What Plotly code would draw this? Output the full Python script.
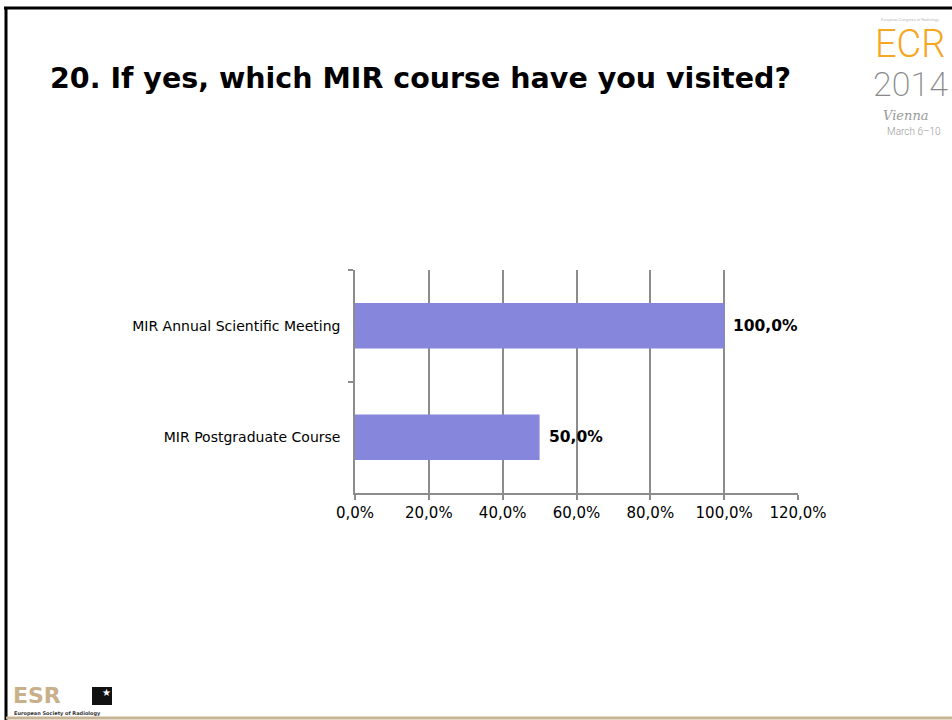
import plotly.graph_objects as go

categories = ["MIR Annual Scientific Meeting", "MIR Postgraduate Course"]
values = [1.0, 0.5]
value_labels = ["100,0%", "50,0%"]
title_text = "20. If yes, which MIR course have you visited?"

W, H = 952, 720

def px(x):
    return x / W

def py(y):
    return 1 - y / H

fig = go.Figure()
fig.add_trace(go.Bar(
    y=categories, x=values, orientation="h",
    marker=dict(color="#8686DD", line=dict(width=0)),
    width=0.41, hoverinfo="skip",
))

for cat, val, lab in zip(categories, values, value_labels):
    fig.add_annotation(x=val, y=cat, xref="x", yref="y", text=lab, showarrow=False,
                       xanchor="left", yanchor="middle", xshift=7,
                       font=dict(family="DejaVu Sans", size=15.5, color="#000000", weight="bold"))

fig.update_layout(
    width=W, height=H, margin=dict(l=0, r=0, t=0, b=0, pad=0, autoexpand=False),
    paper_bgcolor="white", plot_bgcolor="white",
    separators=",.", showlegend=False,
    xaxis=dict(domain=[px(355), px(798)], range=[0, 1.2], dtick=0.2,
               tickformat=".1%", showgrid=True, gridcolor="#8c8c8c", gridwidth=1.5,
               showline=True, linecolor="#8c8c8c", linewidth=1.5,
               ticks="outside", ticklen=5, tickcolor="#8c8c8c", tickwidth=1.5,
               zeroline=False, anchor="y", automargin=False,
               tickfont=dict(family="DejaVu Sans", size=15, color="#000000")),
    yaxis=dict(domain=[py(493), py(270)], autorange="reversed",
               showgrid=False, showline=True, linecolor="#8c8c8c", linewidth=1.5,
               ticks="outside", ticklen=5, tickcolor="#8c8c8c", tickwidth=1.5,
               tickson="boundaries", ticklabelstandoff=10, automargin=False,
               tickfont=dict(family="DejaVu Sans", size=14, color="#000000")),
)

# slide frame
fig.add_shape(type="line", xref="paper", yref="paper", x0=px(4), x1=1, y0=py(8), y1=py(8),
              line=dict(color="#000000", width=3))
fig.add_shape(type="line", xref="paper", yref="paper", x0=px(6), x1=px(6), y0=py(7), y1=0,
              line=dict(color="#000000", width=3))
fig.add_shape(type="line", xref="paper", yref="paper", x0=px(6), x1=1, y0=py(718), y1=py(718),
              line=dict(color="#C8B494", width=3))

# title
fig.add_annotation(text=title_text, xref="paper", yref="paper", x=px(48), y=py(78),
                   xanchor="left", yanchor="middle", showarrow=False,
                   font=dict(family="DejaVu Sans", size=28.5, color="#000000", weight="bold"))

# ECR logo (top right)
fig.add_annotation(text="European Congress of Radiology", xref="paper", yref="paper",
                   x=px(910), y=py(19), xanchor="center", yanchor="middle", showarrow=False,
                   font=dict(family="Roboto", size=4, color="#bbbbbb"))
fig.add_annotation(text="ECR", xref="paper", yref="paper", x=px(910), y=py(44),
                   xanchor="center", yanchor="middle", showarrow=False,
                   font=dict(family="Roboto", size=38, color="#F5A623", weight=300))
fig.add_annotation(text="2014", xref="paper", yref="paper", x=px(910), y=py(84),
                   xanchor="center", yanchor="middle", showarrow=False,
                   font=dict(family="Roboto", size=34, color="#888888", weight=200))
fig.add_annotation(text="<i>Vienna</i>", xref="paper", yref="paper", x=px(906), y=py(116),
                   xanchor="center", yanchor="middle", showarrow=False,
                   font=dict(family="DejaVu Serif", size=13, color="#999999"))
fig.add_annotation(text="March 6–10", xref="paper", yref="paper", x=px(914), y=py(131),
                   xanchor="center", yanchor="middle", showarrow=False,
                   font=dict(family="Roboto", size=10, color="#999999", weight=300))

# ESR logo (bottom left)
fig.add_annotation(text="ESR", xref="paper", yref="paper", x=px(11), y=py(695),
                   xanchor="left", yanchor="middle", showarrow=False,
                   font=dict(family="DejaVu Sans", size=22, color="#C8B08A", weight="bold"))
fig.add_shape(type="rect", xref="paper", yref="paper", x0=px(92), x1=px(112), y0=py(705), y1=py(687),
              line=dict(width=0), fillcolor="#111111")
fig.add_annotation(text="★", xref="paper", yref="paper", x=px(106), y=py(692),
                   xanchor="center", yanchor="middle", showarrow=False,
                   font=dict(family="DejaVu Sans", size=10, color="#ffffff"))
fig.add_annotation(text="European Society of Radiology", xref="paper", yref="paper",
                   x=px(12), y=py(713), xanchor="left", yanchor="middle", showarrow=False,
                   font=dict(family="DejaVu Sans", size=5, color="#333333", weight="bold"))

fig.write_html("out.html", config={"displayModeBar": False},
               post_script="document.body.style.margin='0';document.body.style.overflow='hidden';")
